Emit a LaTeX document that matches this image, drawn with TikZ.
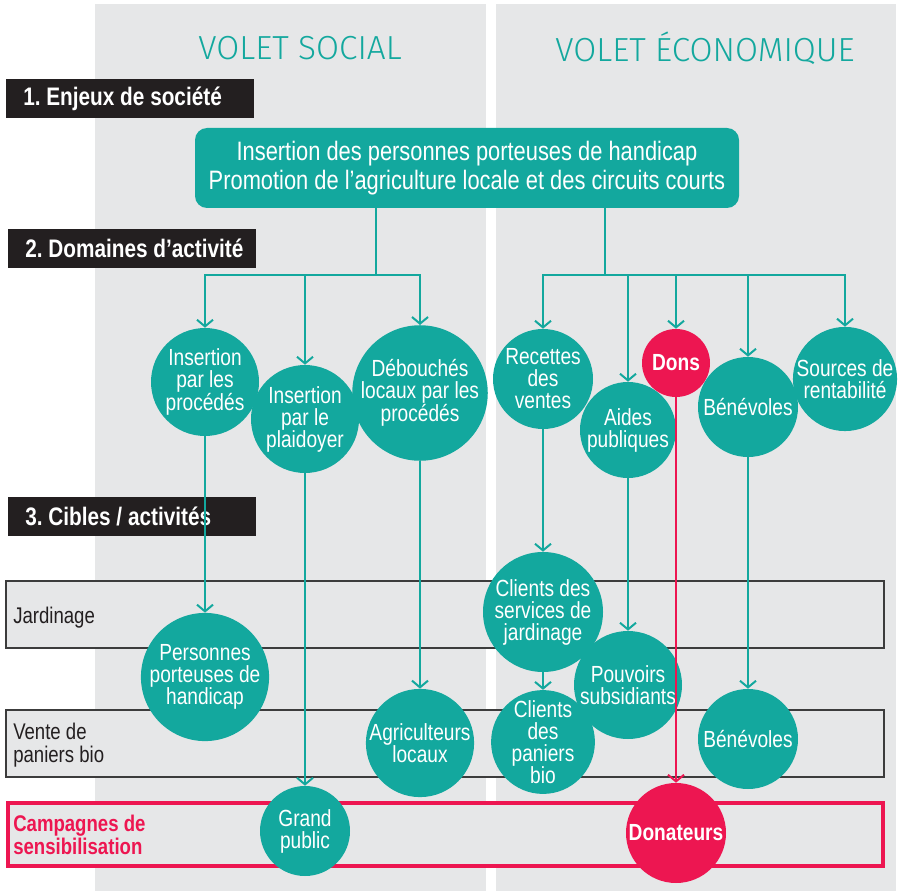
\documentclass[tikz,border=0pt]{standalone}
\usepackage{fontspec}
\setmainfont[FakeStretch=0.82]{Liberation Sans}
\newfontfamily\titlefont{Fira Sans}[UprightFont={* Light}]
\usetikzlibrary{arrows.meta}
\definecolor{tealc}{HTML}{13A89E}
\definecolor{panelc}{HTML}{E6E7E8}
\definecolor{redc}{HTML}{ED1651}
\definecolor{labc}{HTML}{231F20}
\definecolor{bandc}{HTML}{3C3C3C}
\frenchspacing
\tikzset{
  circ/.style={circle, fill=tealc, text=white, inner sep=0pt, align=center,
    font=\fontsize{17.5}{16.5}\selectfont},
  redcirc/.style={circ, fill=redc, font=\bfseries\fontsize{17.5}{16.5}\selectfont},
  conn/.style={draw=tealc, line width=1.5pt, -{Straight Barb[length=5pt,width=12pt]}},
  bus/.style={draw=tealc, line width=1.5pt},
  redconn/.style={conn, draw=redc},
  labbox/.style={fill=labc},
  lab/.style={text=white, anchor=west, inner sep=0pt, font=\bfseries\fontsize{19}{20}\selectfont},
  band/.style={fill=panelc, draw=bandc, line width=1.1pt},
  bandlab/.style={anchor=west, align=left, inner sep=0pt, text=labc, font=\fontsize{17}{17}\selectfont},
  ttl/.style={text=tealc, font=\titlefont\fontsize{25}{28}\selectfont}
}
\begin{document}
\begin{tikzpicture}[x=0.75pt,y=-0.75pt]
\useasboundingbox (0,0) rectangle (899,891);
% panels
\fill[panelc] (95,4) rectangle (486,891);
\fill[panelc] (496,4) rectangle (896,891);
% titles
\node[ttl] (t1) at (300,48.5) {VOLET SOCIAL};
\node[ttl] (t2) at (705,48.5) {VOLET ÉCONOMIQUE};
% black labels
\fill[labbox] (6,79) rectangle (254,118);
\fill[labbox] (8,229) rectangle (256,268);
\fill[labbox] (8,497) rectangle (256,536);
\node[lab] (l1) at (23,98.5) {1. Enjeux de société};
\node[lab] (l2) at (25,248.5) {2. Domaines d’activité};
\node[lab] (l3) at (25,516.5) {3. Cibles / activités};
% top box
\node[fill=tealc, text=white, rounded corners=9pt, minimum width=408pt, minimum height=60pt,
  align=center, font=\fontsize{20}{22}\selectfont] (top) at (467,168)
  {Insertion des personnes porteuses de handicap\\Promotion de l’agriculture locale et des circuits courts};
% bands
\draw[band] (6,581) rectangle (884,648);
\draw[band] (6,710) rectangle (884,777);
\draw[fill=panelc, draw=redc, line width=2.3pt] (8,803) rectangle (883,866);
\node[bandlab] (bj) at (13,618) {Jardinage};
\node[bandlab] (bv) at (13,745) {Vente de\\paniers bio};
\node[bandlab, text=redc, font=\bfseries\fontsize{17}{17}\selectfont] (bc) at (13,835) {Campagnes de\\sensibilisation};
% level 2 circles
\node[circ, minimum size=81pt] (ip) at (205,382) {Insertion\\par les\\procédés};
\node[circ, minimum size=81pt] (ipl) at (305,419) {Insertion\\par le\\plaidoyer};
\node[circ, minimum size=96pt] (deb) at (420,393) {Débouchés\\locaux par les\\procédés};
\node[circ, minimum size=75pt] (rec) at (543,379) {Recettes\\des\\ventes};
\node[circ, minimum size=72pt] (aid) at (628,430) {Aides\\publiques};
\node[redcirc, minimum size=51pt] (dons) at (676,363) {Dons};
\node[circ, minimum size=75pt] (ben) at (748,407) {Bénévoles};
\node[circ, minimum size=75pt] (src) at (845,379) {Sources de\\rentabilité};
% level 3 circles
\node[circ, minimum size=90pt] (pers) at (205,677) {Personnes\\porteuses de\\handicap};
\node[circ, minimum size=81pt] (agr) at (420,743) {Agriculteurs\\locaux};
\node[circ, minimum size=67.5pt] (gp) at (305,831) {Grand\\public};
\node[circ, minimum size=90pt] (csj) at (543,612) {Clients des\\services de\\jardinage};
\node[circ, minimum size=75pt] (cpb) at (543,742) {Clients\\des\\paniers\\bio};
\node[circ, minimum size=81pt] (pouv) at (628,685) {Pouvoirs\\subsidiants};
\node[circ, minimum size=75pt] (ben2) at (748,739) {Bénévoles};
\node[redcirc, minimum size=75pt] (don2) at (676,833) {Donateurs};
% buses
\coordinate (bl) at (376,275);
\coordinate (br) at (605,275);
\draw[bus] (top.south -| bl) -- (bl);
\draw[bus] (top.south -| br) -- (br);
\draw[conn] (bl) -| (ip.north);
\draw[conn] (bl) -| (ipl.north);
\draw[conn] (bl) -| (deb.north);
\draw[conn] (br) -| (rec.north);
\draw[conn] (br) -| (aid.north);
\draw[conn] (br) -| (dons.north);
\draw[conn] (br) -| (ben.north);
\draw[conn] (br) -| (src.north);
% level 2 -> 3
\draw[conn] (ip.south) -- (pers.north);
\draw[conn] (ipl.south) -- (gp.north);
\draw[conn] (deb.south) -- (agr.north);
\draw[conn] (rec.south) -- (csj.north);
\draw[conn] (csj.south) -- (cpb.north);
\draw[conn] (aid.south) -- (pouv.north);
\draw[redconn] (dons.south) -- (don2.north);
\draw[conn] (ben.south) -- (ben2.north);
\end{tikzpicture}
\end{document}
